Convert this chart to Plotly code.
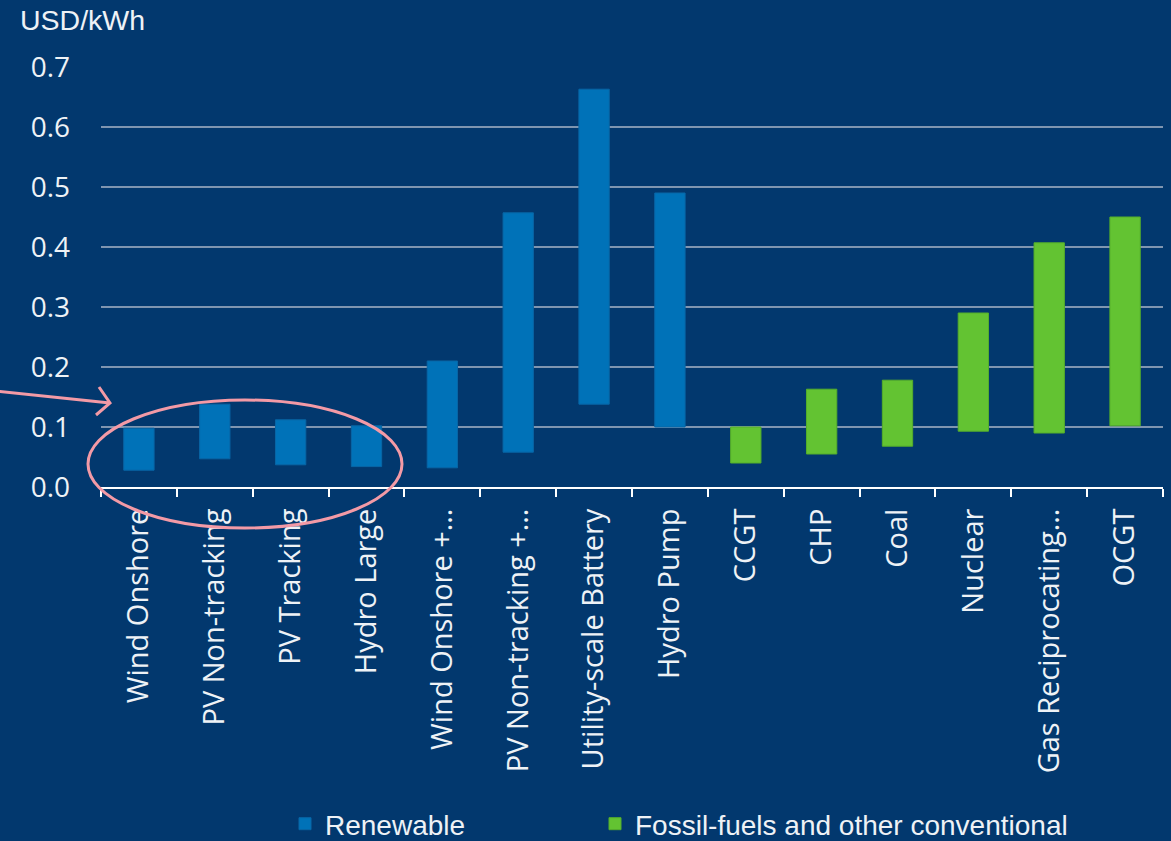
import plotly.graph_objects as go

# Levelised cost ranges (USD/kWh) by technology
renewable_techs = ["Wind Onshore", "PV Non-tracking", "PV Tracking", "Hydro Large",
                   "Wind Onshore +…", "PV Non-tracking +…", "Utility-scale Battery", "Hydro Pump"]
renewable_low = [0.028, 0.047, 0.037, 0.034, 0.032, 0.058, 0.138, 0.100]
renewable_high = [0.098, 0.138, 0.112, 0.102, 0.210, 0.457, 0.663, 0.490]

fossil_techs = ["CCGT", "CHP", "Coal", "Nuclear", "Gas Reciprocating…", "OCGT"]
fossil_low = [0.040, 0.055, 0.068, 0.093, 0.090, 0.102]
fossil_high = [0.100, 0.163, 0.178, 0.290, 0.407, 0.450]

y_ticks = [0.0, 0.1, 0.2, 0.3, 0.4, 0.5, 0.6, 0.7]
y_tick_text = ["0.0", "0.1", "0.2", "0.3", "0.4", "0.5", "0.6", "0.7"]

BG = "#02386E"
BLUE = "#0072B8"
GREEN = "#63C332"
PINK = "#F39AA6"
TEXT = "#EEF2F6"

fig = go.Figure()
fig.add_trace(go.Bar(
    x=renewable_techs,
    y=[h - l for l, h in zip(renewable_low, renewable_high)],
    base=renewable_low,
    name="Renewable",
    marker=dict(color=BLUE, line=dict(color="#0866A6", width=1)),
    width=0.4,
    legend="legend",
))
fig.add_trace(go.Bar(
    x=fossil_techs,
    y=[h - l for l, h in zip(fossil_low, fossil_high)],
    base=fossil_low,
    name="Fossil-fuels and other conventional",
    marker=dict(color=GREEN, line=dict(color="#55AE2A", width=1)),
    width=0.4,
    legend="legend2",
))

# Highlight ellipse around the first four technologies, with a pointer arrow
def px_x(px):
    return (px - 101) / 1062

def px_y(py):
    return (487 - py) / 420

fig.add_shape(type="circle", xref="paper", yref="paper",
              x0=px_x(88), x1=px_x(402), y0=px_y(528), y1=px_y(400),
              line=dict(color=PINK, width=3), layer="above")
fig.add_shape(type="path", xref="paper", yref="paper",
              path=(f"M {px_x(-5)},{px_y(391)} L {px_x(110)},{px_y(403)} "
                    f"M {px_x(99)},{px_y(387)} L {px_x(110)},{px_y(403)} L {px_x(96)},{px_y(415)}"),
              line=dict(color=PINK, width=3), layer="above")

legend_style = dict(
    orientation="h", xanchor="left", y=px_y(824), yanchor="middle",
    font=dict(family="Liberation Sans", size=28, color=TEXT),
    bgcolor="rgba(0,0,0,0)",
)

fig.update_layout(
    width=1171, height=841,
    paper_bgcolor=BG, plot_bgcolor=BG,
    margin=dict(l=101, r=8, t=67, b=354, autoexpand=False),
    barmode="overlay",
    font=dict(family="Open Sans", color=TEXT, size=28),
    showlegend=True,
    legend=dict(x=px_x(285), **legend_style),
    legend2=dict(x=px_x(595), **legend_style),
    annotations=[dict(
        text="USD/kWh", xref="paper", yref="paper", x=px_x(18), y=px_y(20),
        xanchor="left", yanchor="middle", showarrow=False,
        font=dict(family="Liberation Sans", size=28.5, color=TEXT),
    )],
)
fig.update_xaxes(
    categoryorder="array", categoryarray=renewable_techs + fossil_techs,
    tickangle=-90, tickson="boundaries", ticks="outside", ticklen=8,
    tickcolor="white", tickwidth=2, showline=True, linecolor="white", linewidth=2,
    showgrid=False, tickfont=dict(family="Open Sans", size=29, color=TEXT),
    ticklabelstandoff=8, range=[-0.5, 13.5],
)
fig.update_yaxes(
    range=[0, 0.7], tickvals=y_ticks, ticktext=y_tick_text,
    showgrid=True, gridcolor="#7F95B0", gridwidth=1.5, zeroline=False,
    showline=False, ticks="", ticklabelstandoff=30,
    tickfont=dict(family="Open Sans", size=28, color=TEXT),
)

fig.write_html("out.html")
